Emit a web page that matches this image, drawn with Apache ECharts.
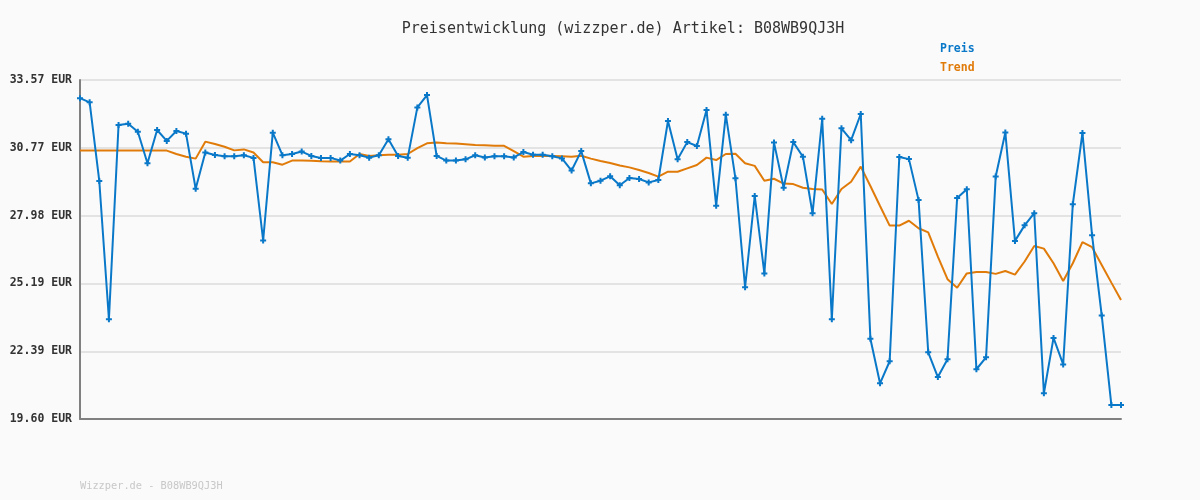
<!DOCTYPE html>
<html>
<head>
<meta charset="utf-8">
<script src="https://cdn.jsdelivr.net/npm/echarts@6/dist/echarts.min.js"></script>
<style>
html,body{margin:0;padding:0;background:#fafafa;}
#c{width:1200px;height:500px;}
</style>
</head>
<body>
<div id="c"></div>
<script>
var categories = [];
for (var k = 1; k <= 109; k++) categories.push(String(k));

var price = [
32.82, 32.65, 29.41, 23.71, 31.72, 31.77, 31.44, 30.14, 31.51, 31.06,
31.47, 31.36, 29.09, 30.58, 30.48, 30.43, 30.43, 30.47, 30.36, 26.96,
31.40, 30.47, 30.52, 30.62, 30.44, 30.36, 30.36, 30.25, 30.52, 30.47,
30.37, 30.47, 31.13, 30.44, 30.37, 32.44, 32.95, 30.44, 30.25, 30.25,
30.30, 30.47, 30.38, 30.43, 30.43, 30.38, 30.60, 30.49, 30.49, 30.43,
30.34, 29.84, 30.64, 29.31, 29.42, 29.60, 29.23, 29.53, 29.49, 29.35,
29.45, 31.88, 30.30, 31.01, 30.85, 32.33, 28.39, 32.14, 29.52, 25.03,
28.79, 25.60, 30.99, 29.13, 31.01, 30.41, 28.08, 31.97, 23.71, 31.58,
31.09, 32.17, 22.91, 21.07, 21.98, 30.40, 30.31, 28.62, 22.35, 21.33,
22.06, 28.71, 29.07, 21.65, 22.14, 29.59, 31.41, 26.94, 27.58, 28.08,
20.66, 22.94, 21.85, 28.45, 31.39, 27.17, 23.87, 20.18, 20.18
];

var trend = [
30.66, 30.66, 30.66, 30.66, 30.66, 30.66, 30.66, 30.66, 30.66, 30.66,
30.52, 30.41, 30.33, 31.03, 30.93, 30.82, 30.67, 30.71, 30.58, 30.18,
30.18, 30.08, 30.25, 30.25, 30.24, 30.22, 30.21, 30.21, 30.21, 30.52,
30.44, 30.47, 30.49, 30.49, 30.52, 30.76, 30.96, 30.99, 30.96, 30.95,
30.92, 30.89, 30.88, 30.86, 30.86, 30.64, 30.41, 30.44, 30.45, 30.44,
30.43, 30.41, 30.45, 30.33, 30.23, 30.15, 30.05, 29.97, 29.86, 29.74,
29.59, 29.79, 29.79, 29.93, 30.07, 30.37, 30.27, 30.52, 30.53, 30.14,
30.03, 29.42, 29.50, 29.30, 29.28, 29.13, 29.08, 29.06, 28.46, 29.08,
29.38, 30.00, 29.20, 28.38, 27.57, 27.57, 27.77, 27.46, 27.29, 26.29,
25.36, 25.01, 25.60, 25.66, 25.66, 25.58, 25.70, 25.55, 26.09, 26.73,
26.62, 26.02, 25.29, 26.02, 26.89, 26.68, 25.95, 25.22, 24.50
];

var yTicks = [19.60, 22.39, 25.19, 27.98, 30.77, 33.57];
var yTickLabels = ['19.60 EUR', '22.39 EUR', '25.19 EUR', '27.98 EUR', '30.77 EUR', '33.57 EUR'];

var titleText = 'Preisentwicklung (wizzper.de) Artikel: B08WB9QJ3H';
var footerText = 'Wizzper.de - B08WB9QJ3H';

var BLUE = '#0a78c8';
var ORANGE = '#e07b0a';
var MONO = '"DejaVu Sans Mono", "Liberation Mono", monospace';

var chart = echarts.init(document.getElementById('c'), null, {renderer: 'canvas'});
chart.setOption({
  backgroundColor: '#fafafa',
  animation: false,
  title: {
    text: titleText,
    left: 618, top: 17, textAlign: 'center',
    textStyle: {fontFamily: MONO, fontSize: 15, fontWeight: 'normal', color: '#333'}
  },
  legend: {
    orient: 'vertical',
    left: 930, top: 38,
    itemWidth: 0, itemHeight: 0, itemGap: 7,
    icon: 'rect',
    data: [
      {name: 'Preis', textStyle: {color: BLUE}},
      {name: 'Trend', textStyle: {color: ORANGE}}
    ],
    textStyle: {fontFamily: MONO, fontSize: 11.5, fontWeight: 'bold'}
  },
  graphic: [{
    type: 'text', left: 80, top: 481,
    style: {text: footerText, font: '10.3px ' + MONO, fill: '#c8c8c8'}
  }],
  grid: {left: 80, right: 79, top: 80, bottom: 81, containLabel: false},
  xAxis: {
    type: 'category', data: categories, boundaryGap: false,
    axisLine: {lineStyle: {color: '#808080', width: 2}},
    axisTick: {show: false},
    axisLabel: {show: false},
    splitLine: {show: false}
  },
  yAxis: {
    type: 'value', min: 19.60, max: 33.57,
    axisLine: {show: true, lineStyle: {color: '#808080', width: 2}},
    axisTick: {show: false, customValues: yTicks},
    axisLabel: {
      customValues: yTicks,
      fontFamily: MONO, fontSize: 11.5, fontWeight: 'bold', color: '#333', margin: 8,
      formatter: function (v) {
        for (var i = 0; i < yTicks.length; i++) if (Math.abs(yTicks[i] - v) < 1e-6) return yTickLabels[i];
        return '';
      }
    },
    splitLine: {show: true, lineStyle: {color: '#e3e3e3', width: 2}}
  },
  series: [
    {
      name: 'Preis', type: 'line', data: price,
      lineStyle: {color: BLUE, width: 2},
      itemStyle: {color: BLUE},
      symbol: 'path://M2,0h2v2h2v2h-2v2h-2v-2h-2v-2h2z', symbolSize: 6, showSymbol: true,
      z: 3
    },
    {
      name: 'Trend', type: 'line', data: trend,
      lineStyle: {color: ORANGE, width: 2},
      itemStyle: {color: ORANGE},
      symbol: 'none',
      z: 2
    }
  ]
});
</script>
</body>
</html>
